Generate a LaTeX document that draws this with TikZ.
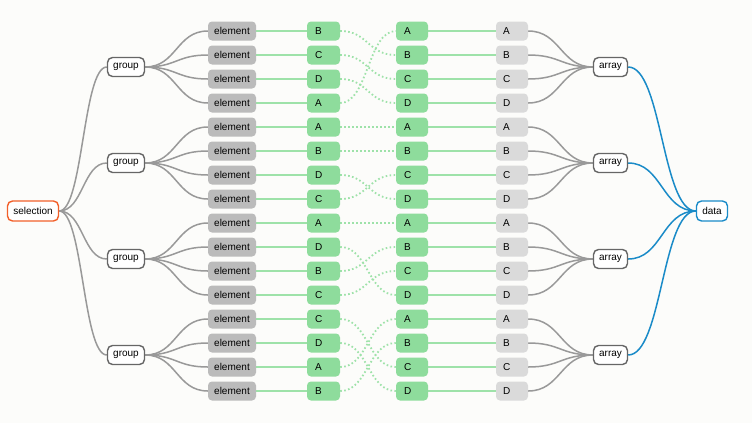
\documentclass[tikz,border=0pt]{standalone}
\usepackage{fontspec}
\setmainfont{Liberation Sans}
\usetikzlibrary{calc}
\definecolor{bgc}{HTML}{FCFCFA}
\definecolor{elgrey}{HTML}{BBBBBB}
\definecolor{lgrey}{HTML}{DADADA}
\definecolor{gfill}{HTML}{8EDC9C}
\definecolor{gline}{HTML}{9EE2A9}
\definecolor{cgrey}{HTML}{999999}
\definecolor{dgrey}{HTML}{666666}
\definecolor{bluec}{HTML}{1A8BC8}
\definecolor{orangec}{HTML}{F2602A}
\pgfdeclarelayer{bglayer}
\pgfsetlayers{bglayer,main}
\newcommand\lnk[3]{\draw[#1] let \p1=(#2), \p2=(#3) in (\p1) .. controls ({(\x1+\x2)/2},\y1) and ({(\x1+\x2)/2},\y2) .. (\p2);}
\newcommand\mkgroup[2]{%
  \pgfmathsetmacro\gcy{67+96*#1}
  \node[grpbox] (grp#1) at (126,\gcy) {group};
  \node[arrbox] (arr#1) at (610.5,\gcy) {array};
  \foreach \l/\t [count=\i] in {#2} {
    \pgfmathsetmacro\ry{31+96*#1+24*(\i-1)}
    \node[elbox] (e#1\i) at (232,\ry) {element};
    \node[gbox] (gl#1\i) at (323.5,\ry) {\l};
  }
  \foreach \l [count=\i] in {A,B,C,D} {
    \pgfmathsetmacro\ry{31+96*#1+24*(\i-1)}
    \node[gbox,text width=16pt] (gr#1\i) at (412,\ry) {\l};
    \node[lbox] (gy#1\i) at (512,\ry) {\l};
  }
  \begin{pgfonlayer}{bglayer}
    \lnk{cline}{sel.east}{grp#1.west}
    \lnk{bline}{arr#1.east}{data.west}
    \foreach \l/\t [count=\i] in {#2} {
      \lnk{cline}{grp#1.east}{e#1\i.west}
      \draw[gsolid] (e#1\i.east) -- (gl#1\i.west);
      \lnk{gdot}{gl#1\i.east}{gr#1\t.west}
      \draw[gsolid] (gr#1\i.east) -- (gy#1\i.west);
      \lnk{cline}{gy#1\i.east}{arr#1.west}
    }
  \end{pgfonlayer}
}
\begin{document}
\begin{tikzpicture}[x=1pt,y=-1pt,
  font=\fontsize{10}{12}\selectfont,
  box/.style={rounded corners=4pt, minimum height=19pt, inner sep=0pt},
  elbox/.style={box, fill=elgrey, minimum width=48pt},
  gbox/.style={box, fill=gfill, text width=17pt, inner xsep=8pt, align=left},
  lbox/.style={box, fill=lgrey, text width=18pt, inner xsep=7pt, align=left},
  grpbox/.style={draw=dgrey, line width=1.4pt, fill=white, rounded corners=5pt, minimum width=37pt, minimum height=19pt, inner sep=0pt},
  arrbox/.style={grpbox, minimum width=34pt},
  selbox/.style={grpbox, draw=orangec, minimum width=51pt, minimum height=20pt},
  databox/.style={grpbox, draw=bluec, minimum width=31pt, minimum height=20pt},
  cline/.style={draw=cgrey, line width=1.5pt},
  bline/.style={draw=bluec, line width=1.5pt},
  gsolid/.style={draw=gline, line width=2pt},
  gdot/.style={draw=gline, line width=1.8pt, dash pattern=on 1.6pt off 2.4pt}]
\begin{pgfonlayer}{bglayer}
\fill[bgc] (0,0) rectangle (752,423);
\end{pgfonlayer}
\useasboundingbox (0,0) rectangle (752,423);
\node[selbox] (sel) at (33,211) {selection};
\node[databox] (data) at (712,211) {data};
\mkgroup{0}{B/2,C/3,D/4,A/1}
\mkgroup{1}{A/1,B/2,D/4,C/3}
\mkgroup{2}{A/1,D/4,B/2,C/3}
\mkgroup{3}{C/3,D/4,A/1,B/2}
\end{tikzpicture}
\end{document}
